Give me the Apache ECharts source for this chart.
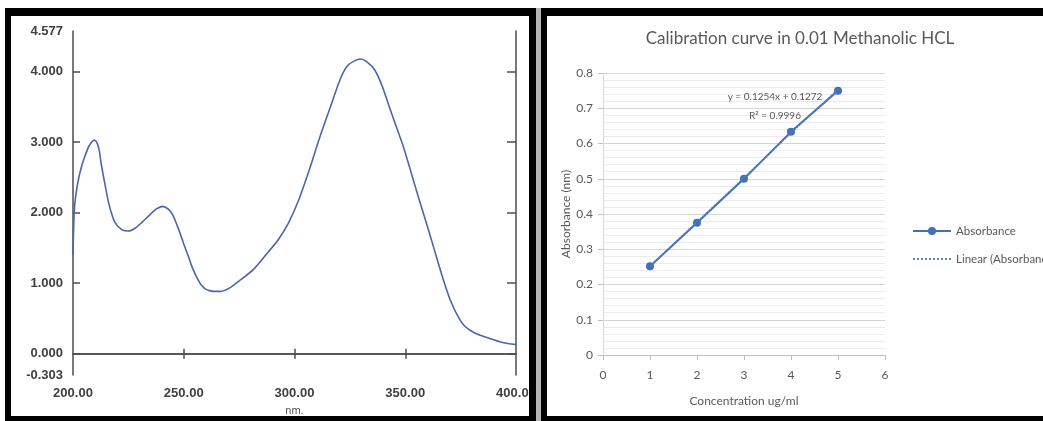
<!DOCTYPE html>
<html>
<head>
<meta charset="utf-8">
<script src="https://cdn.jsdelivr.net/npm/echarts@6/dist/echarts.min.js"></script>
<style>
html,body{margin:0;padding:0;background:#fff;}
#chart{width:1043px;height:421px;}
</style>
</head>
<body>
<div id="chart"></div>
<script>
// ---- Left panel: UV spectrum ----
const wavelengths = [200, 200.6, 201.5, 202.7, 204, 205.5, 207.3, 209.7, 211.5, 212.8, 214.5, 216, 217.5, 219, 222, 225, 228, 231, 234.7, 237.5, 240.5, 243, 245, 247, 249, 250.3, 252, 253.4, 255, 256.6, 258, 259.7, 261.5, 263.6, 266.7, 270.6, 275.3, 281.6, 287.8, 292.5, 297.2, 301.9, 306.6, 311.3, 316, 320.6, 323.8, 326.9, 329.7, 333.1, 336.3, 339.4, 342.5, 345.6, 348.8, 351.9, 355, 358.1, 361.3, 364.4, 367.5, 370.6, 373.8, 376.9, 381.6, 387.8, 394, 400];
const spectrumAbs = [1.40, 2.04, 2.30, 2.51, 2.67, 2.81, 2.95, 3.03, 2.93, 2.68, 2.39, 2.15, 1.98, 1.86, 1.76, 1.74, 1.78, 1.86, 1.97, 2.05, 2.09, 2.05, 1.97, 1.82, 1.65, 1.53, 1.39, 1.26, 1.14, 1.04, 0.97, 0.92, 0.895, 0.885, 0.885, 0.93, 1.04, 1.20, 1.43, 1.61, 1.85, 2.18, 2.60, 3.06, 3.48, 3.89, 4.08, 4.15, 4.18, 4.13, 4.02, 3.81, 3.53, 3.25, 2.97, 2.65, 2.32, 2.00, 1.67, 1.34, 1.02, 0.74, 0.53, 0.39, 0.29, 0.22, 0.16, 0.13];
const specXTicks = [200, 250, 300, 350, 400];
const specXInnerTicks = [250, 300, 350];
const specYLabels = [-0.303, 0, 1, 2, 3, 4, 4.577];
const specYTicks = [0, 1, 2, 3, 4];
const specXName = 'nm.';

// ---- Right panel: calibration curve ----
const calTitle = 'Calibration curve in 0.01 Methanolic HCL';
const concentrations = [1, 2, 3, 4, 5];
const absorbance = [0.252, 0.375, 0.5, 0.633, 0.75];
const trendX = [1, 5];
const trendY = [0.2526, 0.7542];
const equationText = 'y = 0.1254x + 0.1272';
const r2Text = 'R² = 0.9996';
const calXName = 'Concentration ug/ml';
const calYName = 'Absorbance (nm)';
const seriesName = 'Absorbance';
const trendName = 'Linear (Absorbance)';

const chart = echarts.init(document.getElementById('chart'), null, {renderer: 'canvas'});

const leftFont = {fontFamily: 'Liberation Sans', fontWeight: 'bold', fontSize: 13, color: '#404040'};
const frameLine = {color: '#4d4d4d', width: 1.5};
const rightFont = 'Lato';

const option = {
  backgroundColor: '#ffffff',
  animation: false,
  grid: [
    {left: 73, right: 527, top: 31, bottom: 40},
    {left: 603, right: 158, top: 73, bottom: 66}
  ],
  xAxis: [
    {
      gridIndex: 0, type: 'value', min: 200, max: 400, position: 'bottom',
      axisLine: {show: true, lineStyle: frameLine},
      axisTick: {show: true, inside: true, length: 5, customValues: specXInnerTicks, lineStyle: frameLine},
      axisLabel: Object.assign({customValues: specXTicks, margin: 12, formatter: v => v.toFixed(2)}, leftFont),
      splitLine: {show: false},
      name: specXName, nameLocation: 'middle', nameGap: 24,
      nameTextStyle: {fontFamily: 'Liberation Sans', fontSize: 11, color: '#555'}
    },
    {
      gridIndex: 0, type: 'value', min: 200, max: 400, position: 'top',
      axisLine: {show: true, lineStyle: frameLine},
      axisTick: {show: true, inside: true, length: 5, customValues: specXInnerTicks, lineStyle: frameLine},
      axisLabel: {show: false}, splitLine: {show: false}
    },
    {
      gridIndex: 1, type: 'value', min: 0, max: 6, interval: 1,
      axisLine: {show: true, lineStyle: {color: '#bfbfbf'}},
      axisTick: {show: true, length: 5, lineStyle: {color: '#bfbfbf'}},
      axisLabel: {color: '#595959', fontFamily: rightFont, fontSize: 12, margin: 14},
      splitLine: {show: false},
      name: calXName, nameLocation: 'middle', nameGap: 40,
      nameTextStyle: {color: '#595959', fontFamily: rightFont, fontSize: 12}
    }
  ],
  yAxis: [
    {
      gridIndex: 0, type: 'value', min: -0.303, max: 4.577, position: 'left',
      axisLine: {show: true, lineStyle: frameLine},
      axisTick: {show: true, inside: true, length: 7, customValues: specYTicks, lineStyle: frameLine},
      axisLabel: Object.assign({customValues: specYLabels, margin: 10, formatter: v => v.toFixed(3)}, leftFont),
      splitLine: {show: false}
    },
    {
      gridIndex: 0, type: 'value', min: -0.303, max: 4.577, position: 'right',
      axisLine: {show: true, lineStyle: frameLine},
      axisTick: {show: true, inside: true, length: 9, customValues: specYTicks, lineStyle: frameLine},
      axisLabel: {show: false}, splitLine: {show: false}
    },
    {
      gridIndex: 1, type: 'value', min: 0, max: 0.8, interval: 0.1,
      axisLine: {show: true, lineStyle: {color: '#d9d9d9'}},
      axisTick: {show: true, length: 5, lineStyle: {color: '#bfbfbf'}},
      axisLabel: {color: '#595959', fontFamily: rightFont, fontSize: 12, margin: 10},
      splitLine: {show: true, lineStyle: {color: '#d4d4d4', width: 1}},
      minorTick: {show: false, splitNumber: 5},
      minorSplitLine: {show: true, lineStyle: {color: '#ececec', width: 1}},
      name: calYName, nameLocation: 'middle', nameGap: 29, nameRotate: 90,
      nameTextStyle: {color: '#595959', fontFamily: rightFont, fontSize: 12}
    }
  ],
  legend: {
    data: [seriesName, {name: trendName, itemStyle: {opacity: 0}}],
    orient: 'vertical', left: 907, top: 220,
    itemWidth: 38, itemHeight: 10, itemGap: 16,
    textStyle: {color: '#595959', fontFamily: rightFont, fontSize: 11.5},
    selectedMode: false
  },
  series: [
    {
      type: 'line', xAxisIndex: 0, yAxisIndex: 0,
      data: wavelengths.map((w, i) => [w, spectrumAbs[i]]),
      showSymbol: false, symbol: 'none', smooth: 0.3,
      lineStyle: {color: '#4a68a6', width: 1.6},
      silent: true, z: 3
    },
    {
      name: seriesName, type: 'line', xAxisIndex: 2, yAxisIndex: 2,
      data: concentrations.map((c, i) => [c, absorbance[i]]),
      symbol: 'circle', symbolSize: 8,
      itemStyle: {color: '#4170b6'},
      lineStyle: {color: '#4170b6', width: 2},
      z: 3
    },
    {
      name: trendName, type: 'line', xAxisIndex: 2, yAxisIndex: 2,
      data: trendX.map((c, i) => [c, trendY[i]]),
      symbol: 'none', showSymbol: false,
      itemStyle: {color: '#5b86c9'},
      lineStyle: {color: '#5b86c9', width: 1.2, type: 'dotted'},
      z: 4
    }
  ],
  graphic: [
    {type: 'text', x: 800, y: 39, z: 10, style: {text: calTitle, align: 'center', verticalAlign: 'middle', fontFamily: rightFont, fontSize: 17, fill: '#595959'}},
    {type: 'text', x: 775, y: 97, z: 10, style: {text: equationText, align: 'center', verticalAlign: 'middle', fontFamily: rightFont, fontSize: 10, fill: '#595959'}},
    {type: 'text', x: 775, y: 116, z: 10, style: {text: r2Text, align: 'center', verticalAlign: 'middle', fontFamily: rightFont, fontSize: 10, fill: '#595959'}},
    // panel frames
    {type: 'rect', z: 20, shape: {x: 5, y: 8, width: 531, height: 8}, style: {fill: '#000'}},
    {type: 'rect', z: 20, shape: {x: 5, y: 8, width: 6, height: 413}, style: {fill: '#000'}},
    {type: 'rect', z: 20, shape: {x: 529, y: 8, width: 7, height: 413}, style: {fill: '#000'}},
    {type: 'rect', z: 20, shape: {x: 5, y: 416, width: 531, height: 5}, style: {fill: '#000'}},
    {type: 'rect', z: 20, shape: {x: 536, y: 8, width: 5, height: 413}, style: {fill: '#b5b5b5'}},
    {type: 'rect', z: 20, shape: {x: 541, y: 8, width: 502, height: 8}, style: {fill: '#000'}},
    {type: 'rect', z: 20, shape: {x: 541, y: 8, width: 6, height: 413}, style: {fill: '#000'}},
    {type: 'rect', z: 20, shape: {x: 541, y: 416, width: 502, height: 5}, style: {fill: '#000'}}
  ]
};
chart.setOption(option);
</script>
</body>
</html>
